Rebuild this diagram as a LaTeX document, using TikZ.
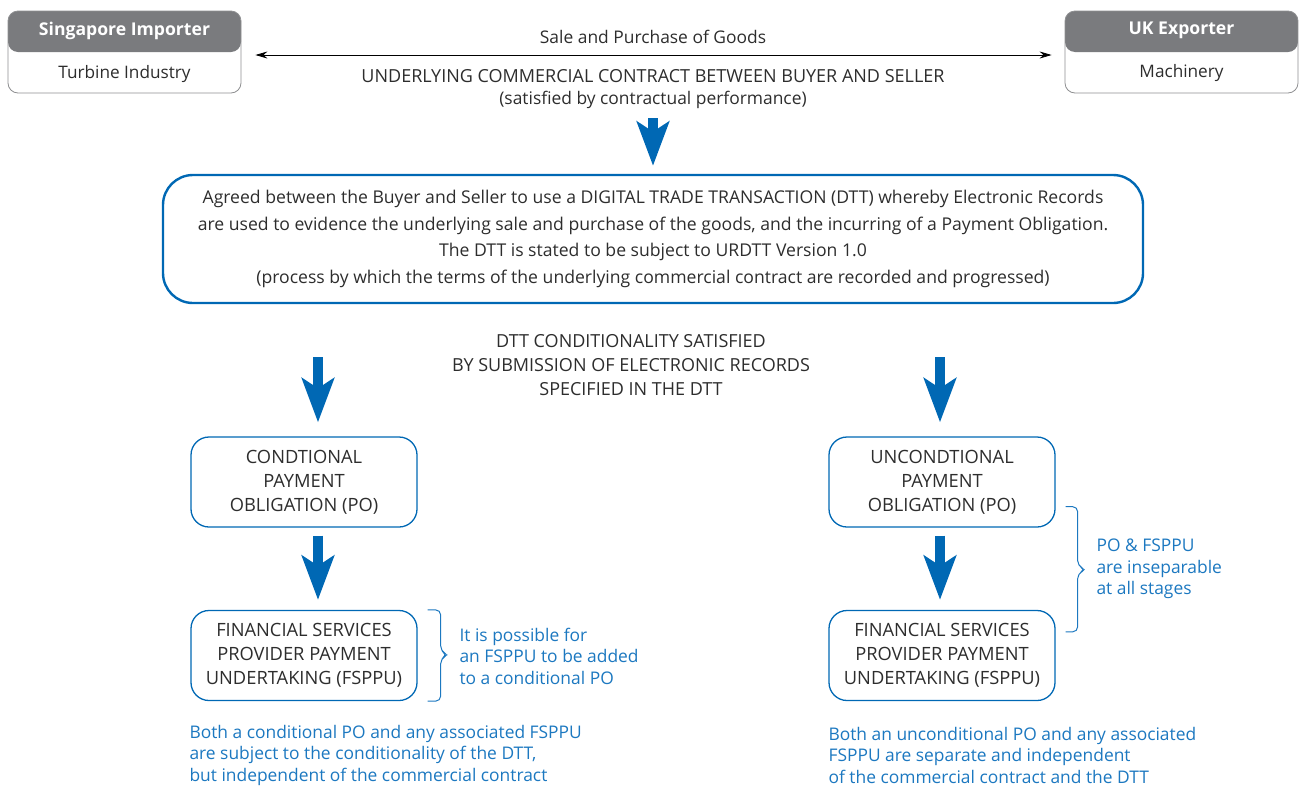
\documentclass[tikz,border=0pt]{standalone}
\usepackage{fontspec}
\setmainfont{Open Sans}
\usetikzlibrary{arrows.meta}
\definecolor{dttblue}{RGB}{0,104,180}
\definecolor{noteblue}{RGB}{28,120,192}
\definecolor{hdrgrey}{RGB}{122,123,126}
\definecolor{txtgrey}{RGB}{45,45,45}
\tikzset{
  party/.style={draw=hdrgrey!85, line width=0.8pt, rounded corners=10pt, fill=white,
    minimum width=233pt, minimum height=82pt, align=center, text=txtgrey,
    font=\fontsize{17.2}{43}\selectfont,
    path picture={\fill[hdrgrey] (path picture bounding box.north west) rectangle
      ([yshift=-41pt]path picture bounding box.north east);}},
  plain/.style={align=center, text=txtgrey, font=\fontsize{17.4}{24}\selectfont},
  caps/.style={align=center, text=txtgrey, font=\fontsize{18}{24}\selectfont},
  dttbox/.style={draw=dttblue, line width=2.4pt, rounded corners=30pt,
    minimum width=980pt, minimum height=128pt, align=center, text=txtgrey,
    font=\fontsize{17.6}{26.5}\selectfont},
  pobox/.style={draw=dttblue, line width=1.3pt, rounded corners=18pt,
    minimum width=226pt, minimum height=90pt, align=center, text=txtgrey,
    font=\fontsize{18.3}{24}\selectfont},
  flow/.style={line width=10pt, dttblue, -{Stealth[length=44pt,width=32pt,inset=10pt]}},
  note/.style={anchor=west, align=left, text=noteblue, font=\fontsize{17.4}{21.5}\selectfont},
  bracket/.style={draw=noteblue, line width=1pt, rounded corners=5pt},
}
\newcommand{\hdr}[1]{{\color{white}\fontsize{17.6}{43}\bfseries #1}}
\begin{document}
\begin{tikzpicture}[x=1pt, y=-1pt]
\useasboundingbox (0,0) rectangle (1300,785);

\node[party] (imp) at (124.5,52) {\hdr{Singapore Importer}\\Turbine Industry};
\node[party] (exp) at (1181.5,52) {\hdr{UK Exporter}\\Machinery};
\draw[{Stealth[length=12pt,width=7pt]}-{Stealth[length=12pt,width=7pt]}, line width=0.8pt]
  ([xshift=14pt,yshift=-3pt]imp.east) -- ([xshift=-13pt,yshift=-3pt]exp.west);

\node[plain] (sale) at (653,37) {Sale and Purchase of Goods};
\node[caps] (contract) at (653,76) {UNDERLYING COMMERCIAL CONTRACT BETWEEN BUYER AND SELLER};
\node[plain] (perf) at (653,100) {(satisfied by contractual performance)};

\node[dttbox] (dtt) at (653,239) {Agreed between the Buyer and Seller to use a DIGITAL TRADE TRANSACTION (DTT) whereby Electronic Records\\
  are used to evidence the underlying sale and purchase of the goods, and the incurring of a Payment Obligation.\\
  The DTT is stated to be subject to URDTT Version 1.0\\
  (process by which the terms of the underlying commercial contract are recorded and progressed)};
\draw[flow] ([yshift=-6pt]perf.south) -- ([yshift=8pt]dtt.north);

\node[caps] (cond) at (631,365) {DTT CONDITIONALITY SATISFIED\\
  BY SUBMISSION OF ELECTRONIC RECORDS\\SPECIFIED IN THE DTT};

\node[pobox] (cpo) at (304,482) {CONDTIONAL\\PAYMENT\\OBLIGATION (PO)};
\node[pobox] (cfs) at (304,655.5) {FINANCIAL SERVICES\\PROVIDER PAYMENT\\UNDERTAKING (FSPPU)};
\node[pobox] (upo) at (942,482) {UNCONDTIONAL\\PAYMENT\\OBLIGATION (PO)};
\node[pobox] (ufs) at (942,655.5) {FINANCIAL SERVICES\\PROVIDER PAYMENT\\UNDERTAKING (FSPPU)};

\coordinate (lt) at (318,357);
\coordinate (rt) at (940,357);
\draw[flow] (lt) -- ([yshift=14pt]lt |- cpo.north);
\draw[flow] (rt) -- ([yshift=14pt]rt |- upo.north);
\draw[flow] ([yshift=-8pt]lt |- cpo.south) -- ([yshift=10pt]lt |- cfs.north);
\draw[flow] ([yshift=-8pt]rt |- upo.south) -- ([yshift=10pt]rt |- ufs.north);

\draw[bracket] ([xshift=10pt]cfs.north east) -- ++(13,0) -- ++(0,41) -- ++(7,4) -- ++(-7,4)
  -- ([xshift=23pt]cfs.south east) -- ([xshift=10pt]cfs.south east);
\node[note] (possible) at (456,656) {It is possible for\\an FSPPU to be added\\to a conditional PO};

\draw[bracket] ([xshift=10pt,yshift=21pt]upo.south east) -- ++(12,0) -- ++(0,59) -- ++(8,4) -- ++(-8,4)
  -- ([xshift=22pt,yshift=-22pt]ufs.north east) -- ([xshift=10pt,yshift=-22pt]ufs.north east);
\node[note] (insep) at (1093,569) {PO \& FSPPU\\are inseparable\\at all stages};

\node[note] (lnote) at (186,755) {Both a conditional PO and any associated FSPPU\\
  are subject to the conditionality of the DTT,\\but independent of the commercial contract};
\node[note] (rnote) at (825,755) {Both an unconditional PO and any associated\\
  FSPPU are separate and independent\\of the commercial contract and the DTT};
\end{tikzpicture}
\end{document}
